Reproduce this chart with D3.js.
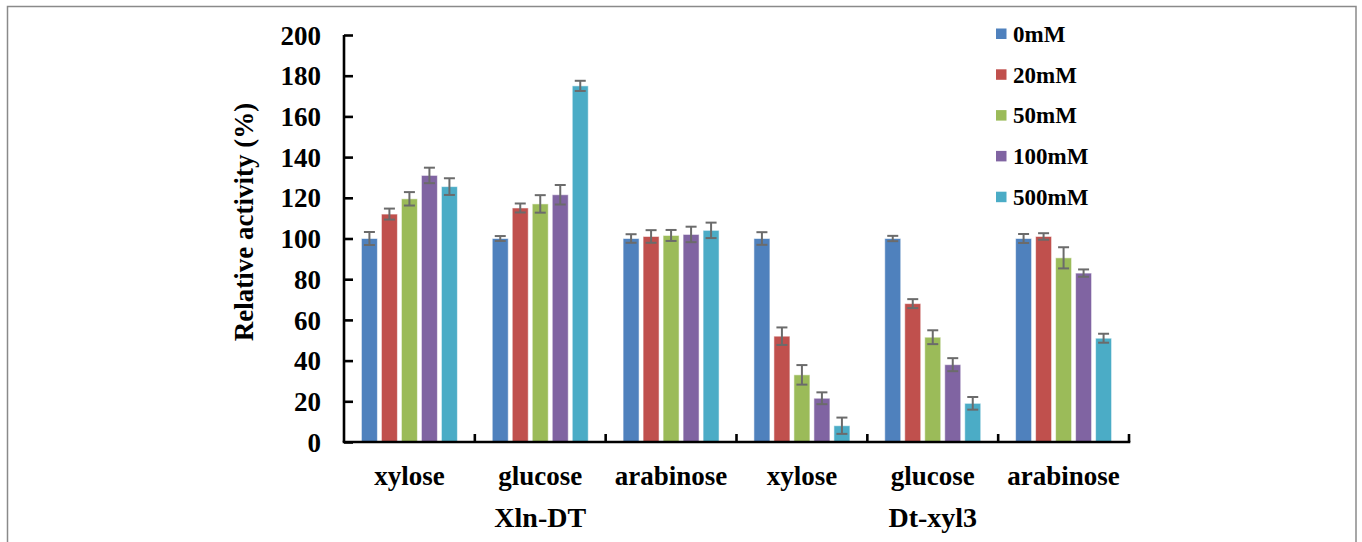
<!DOCTYPE html>
<html>
<head>
<meta charset="utf-8">
<script src="https://cdn.jsdelivr.net/npm/d3@7"></script>
<style>
  html, body { margin: 0; padding: 0; background: #fff; }
  svg { display: block; }
  svg text { font-family: 'Liberation Serif', 'DejaVu Serif', 'Times New Roman', Times, serif !important; font-weight: 700; fill: #000; }
</style>
</head>
<body>
<svg id="chart" width="1362" height="542"></svg>
<script>
// ---- data ----
const series = ["0mM", "20mM", "50mM", "100mM", "500mM"];
const categories = ["xylose", "glucose", "arabinose", "xylose", "glucose", "arabinose"];
const groups = ["Xln-DT", "Dt-xyl3"];
const values0 = [100, 100, 100, 100, 100, 100];
const values20 = [112, 115, 101, 52, 68, 101];
const values50 = [119.5, 117, 101.5, 33, 51.5, 90.5];
const values100 = [131, 121.5, 102, 21.5, 38, 83];
const values500 = [125.5, 175, 104, 8, 19, 51];
const err0 = [3.2, 1.2, 2.1, 3.1, 1.3, 2.2];
const err20 = [2.7, 2.2, 3.1, 4.3, 2.2, 1.6];
const err50 = [3.3, 4.3, 2.7, 4.8, 3.4, 5.2];
const err100 = [3.8, 4.8, 3.8, 2.9, 3.2, 1.8];
const err500 = [4.1, 2.5, 3.8, 4.0, 3.1, 2.2];
const yTicks = [0, 20, 40, 60, 80, 100, 120, 140, 160, 180, 200];
const yTitle = "Relative activity (%)";
const colors = ["#4F81BD", "#C0504D", "#9BBB59", "#8064A2", "#4BACC6"];

const allValues = [values0, values20, values50, values100, values500];
const allErrors = [err0, err20, err50, err100, err500];

(function () {
const FONT = "'Liberation Serif', 'DejaVu Serif', 'Times New Roman', Times, serif";
const svg = d3.select("#chart").attr("font-family", FONT);
const pLeft = 344, pRight = 1129, pTop = 35, pBottom = 442;

svg.append("rect")
  .attr("x", 7.5).attr("y", 6.5).attr("width", 1348.5).attr("height", 560)
  .attr("fill", "none").attr("stroke", "#8a8a8a").attr("stroke-width", 1.5);

const catIdx = categories.map((c, i) => i);
const x0 = d3.scaleBand().domain(catIdx).range([pLeft, pRight]).paddingInner(0).paddingOuter(0);
const bw = x0.bandwidth();
const x1 = d3.scaleBand().domain(series)
  .range([bw / 2 - 50, bw / 2 + 50]).paddingInner(0.2).paddingOuter(0.1);
const y = d3.scaleLinear().domain([0, 200]).range([pBottom, pTop]);

const rows = [];
series.forEach((s, si) => {
  catIdx.forEach(ci => {
    rows.push({ s, si, ci, v: allValues[si][ci], e: allErrors[si][ci] });
  });
});

svg.append("g").selectAll("rect.bar").data(rows).enter().append("rect")
  .attr("class", "bar")
  .attr("x", d => x0(d.ci) + x1(d.s))
  .attr("width", x1.bandwidth())
  .attr("y", d => y(d.v))
  .attr("height", d => y(0) - y(d.v))
  .attr("fill", d => colors[d.si])
  .attr("stroke", "rgba(255,255,255,0.55)")
  .attr("stroke-width", 1);

const eg = svg.append("g").attr("stroke", "#6b6b6b").attr("stroke-width", 2).attr("fill", "none");
rows.forEach(d => {
  const cx = x0(d.ci) + x1(d.s) + x1.bandwidth() / 2;
  const y1 = y(d.v + d.e), y2 = y(d.v - d.e);
  eg.append("line").attr("x1", cx).attr("x2", cx).attr("y1", y1).attr("y2", y2);
  eg.append("line").attr("x1", cx - 5.5).attr("x2", cx + 5.5).attr("y1", y1).attr("y2", y1);
  eg.append("line").attr("x1", cx - 5.5).attr("x2", cx + 5.5).attr("y1", y2).attr("y2", y2);
});

const yAxis = d3.axisLeft(y).tickValues(yTicks).tickSize(-9).tickPadding(32).tickFormat(d3.format("d"));
const ya = svg.append("g").attr("transform", `translate(${pLeft},0)`).call(yAxis)
  .attr("font-family", FONT).attr("font-size", 27).attr("font-weight", "bold");
ya.select(".domain").attr("d", `M0,${pTop}V${pBottom}`).attr("stroke", "#000").attr("stroke-width", 2.6);
ya.selectAll(".tick line").attr("stroke", "#000").attr("stroke-width", 2.6);
ya.selectAll(".tick text").attr("fill", "#000").attr("x", -23).attr("dy", "0.34em");

const xa = svg.append("g");
xa.append("line").attr("x1", pLeft - 1.3).attr("x2", pRight + 1.3).attr("y1", pBottom).attr("y2", pBottom)
  .attr("stroke", "#000").attr("stroke-width", 2.6);
xa.selectAll("line.bt").data(catIdx).enter().append("line")
  .attr("class", "bt")
  .attr("x1", d => x0(d) + bw).attr("x2", d => x0(d) + bw)
  .attr("y1", pBottom).attr("y2", pBottom - 8)
  .attr("stroke", "#000").attr("stroke-width", 2.6);

svg.selectAll("text.cat").data(catIdx).enter().append("text")
  .attr("class", "cat")
  .attr("x", d => x0(d) + bw / 2).attr("y", 485)
  .attr("text-anchor", "middle").attr("font-size", 27)
  .text(d => categories[d]);

svg.selectAll("text.grp").data(groups).enter().append("text")
  .attr("class", "grp")
  .attr("x", (d, i) => x0(i * 3 + 1) + bw / 2).attr("y", 527)
  .attr("text-anchor", "middle").attr("font-size", 28)
  .text(d => d);

svg.append("text")
  .attr("transform", `translate(253,222) rotate(-90)`)
  .attr("text-anchor", "middle").attr("font-size", 27)
  .text(yTitle);

const lg = svg.append("g").attr("transform", "translate(996,28.5)");
const li = lg.selectAll("g").data(series).enter().append("g")
  .attr("transform", (d, i) => `translate(0,${i * 40.8})`);
li.append("rect").attr("width", 10.5).attr("height", 10.5).attr("fill", (d, i) => colors[i]);
li.append("text").attr("x", 17).attr("y", 13.2).attr("font-size", 23).text(d => d);
})();
</script>
</body>
</html>
